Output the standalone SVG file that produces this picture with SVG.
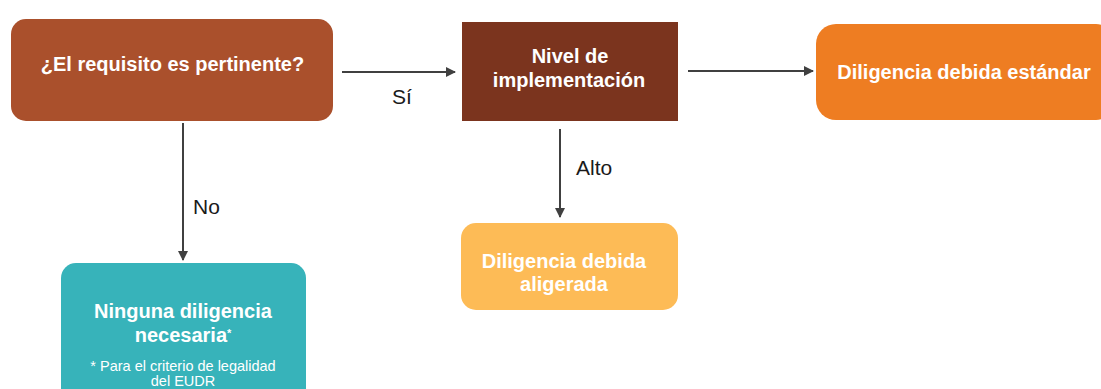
<svg xmlns="http://www.w3.org/2000/svg" width="1101" height="389" viewBox="0 0 1101 389">
<style>
.t{font-family:"Liberation Sans",Arial,sans-serif;font-weight:bold;font-size:20px;fill:#ffffff;text-anchor:middle}
.l{font-family:"Liberation Sans",Arial,sans-serif;font-size:21px;fill:#1a1a1a}
.s{font-family:"Liberation Sans",Arial,sans-serif;font-size:14.5px;fill:#ffffff;text-anchor:middle}
.c{stroke:#404040;stroke-width:2;fill:none}
</style>
<defs>
<marker id="ah" viewBox="0 0 10 10" refX="9" refY="5" markerWidth="5" markerHeight="5" orient="auto" markerUnits="strokeWidth">
<path d="M0,0 L10,5 L0,10 z" fill="#404040"/>
</marker>
</defs>
<rect width="1101" height="389" fill="#ffffff"/>
<g id="connectors">
<line class="c" x1="342" y1="72" x2="455" y2="72" marker-end="url(#ah)"/>
<text class="l" x="392" y="104">Sí</text>
<line class="c" x1="688" y1="71" x2="813" y2="71" marker-end="url(#ah)"/>
<line class="c" x1="183" y1="123" x2="183" y2="260" marker-end="url(#ah)"/>
<text class="l" x="193" y="214">No</text>
<line class="c" x1="560" y1="129" x2="560" y2="217" marker-end="url(#ah)"/>
<text class="l" x="576" y="175">Alto</text>
</g>
<g id="n1">
<rect x="11" y="19" width="322" height="102" rx="15" fill="#AA502C"/>
<text class="t" x="172.5" y="71">¿El requisito es pertinente?</text>
</g>
<g id="n2">
<rect x="462" y="22" width="216" height="99" fill="#7B341E"/>
<text class="t" x="570" y="63">Nivel de</text>
<text class="t" x="569" y="87">implementación</text>
</g>
<g id="n3">
<rect x="816" y="24" width="300" height="96" rx="20" fill="#EE7D22"/>
<text class="t" x="964" y="79">Diligencia debida estándar</text>
</g>
<g id="n4">
<rect x="61" y="263" width="245" height="150" rx="15" fill="#37B3BA"/>
<text class="t" x="183" y="318">Ninguna diligencia</text>
<text class="t" x="183" y="342">necesaria<tspan font-size="11" dy="-5">*</tspan></text>
<text class="s" x="183" y="371">* Para el criterio de legalidad</text>
<text class="s" x="183" y="386">del EUDR</text>
</g>
<g id="n5">
<rect x="461" y="223" width="217" height="87" rx="15" fill="#FDBB56"/>
<text class="t" x="564" y="268">Diligencia debida</text>
<text class="t" x="564" y="291">aligerada</text>
</g>
</svg>
